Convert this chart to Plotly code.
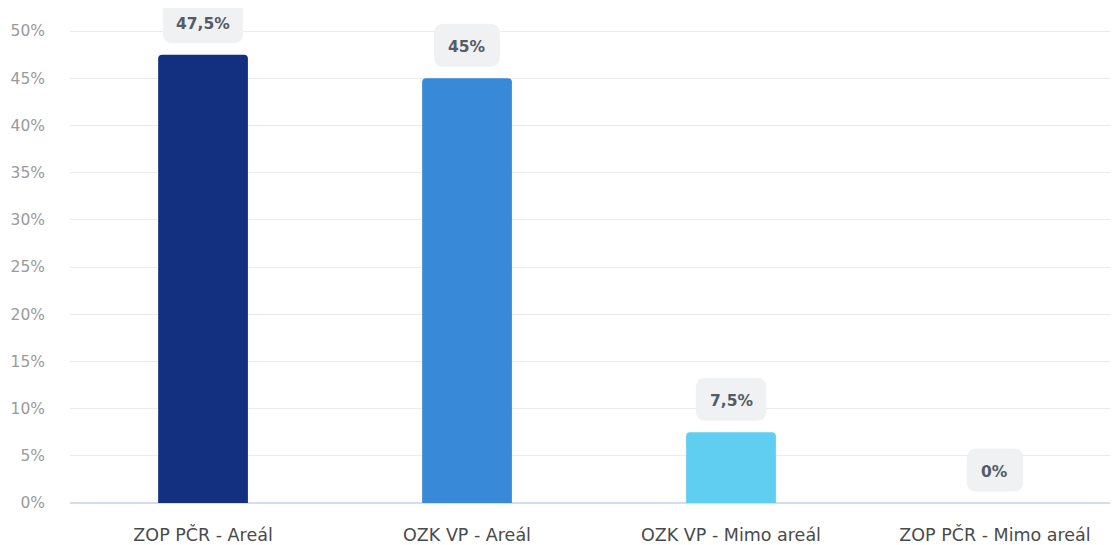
import plotly.graph_objects as go

categories = ["ZOP PČR - Areál", "OZK VP - Areál", "OZK VP - Mimo areál", "ZOP PČR - Mimo areál"]
values = [47.5, 45, 7.5, 0]
labels = ["47,5%", "45%", "7,5%", "0%"]
colors = ["#12307F", "#3889D8", "#60CEF0", "#60CEF0"]
y_ticks = [0, 5, 10, 15, 20, 25, 30, 35, 40, 45, 50]
y_tick_text = [f"{t}%" for t in y_ticks]

FONT = "DejaVu Sans, sans-serif"

fig = go.Figure()
fig.add_trace(go.Bar(
    x=categories, y=values,
    marker=dict(color=colors, cornerradius=4, line=dict(width=0)),
    width=0.34, hoverinfo="skip",
))

char_w = {",": 4.5, "%": 13}
def box_width(t):
    return 34 + sum(char_w.get(c, 9.5) for c in t)

def rounded_path(w, h, cy, r=10):
    x0, x1 = -w / 2, w / 2
    y0, y1 = cy - h / 2, cy + h / 2
    return (f"M {x0 + r},{y0} L {x1 - r},{y0} Q {x1},{y0} {x1},{y0 + r} "
            f"L {x1},{y1 - r} Q {x1},{y1} {x1 - r},{y1} L {x0 + r},{y1} "
            f"Q {x0},{y1} {x0},{y1 - r} L {x0},{y0 + r} Q {x0},{y0} {x0 + r},{y0} Z")

for i, (c, v, t) in enumerate(zip(categories, values, labels)):
    fig.add_shape(
        type="path", xref="x", yref="y", xsizemode="pixel", ysizemode="pixel",
        xanchor=i, yanchor=v,
        path=rounded_path(box_width(t), 43, 33),
        fillcolor="#F0F1F2", line=dict(width=0), layer="above",
    )
    fig.add_annotation(
        x=c, y=v, text=f"<b>{t}</b>", showarrow=False, yshift=31,
        font=dict(family=FONT, size=15.5, color="#545B66"),
    )

fig.update_layout(
    width=1110, height=537,
    margin=dict(l=62, r=0, t=0, b=42, autoexpand=False),
    plot_bgcolor="white", paper_bgcolor="white",
    showlegend=False,
    bargap=0.66,
    xaxis=dict(
        range=[-0.504, 3.466],
        showgrid=False, ticks="outside", ticklen=0, tickcolor="white",
        ticklabelstandoff=16,
        tickfont=dict(family=FONT, size=17.5, color="#4A4A4A"),
        showline=False,
    ),
    yaxis=dict(
        range=[0, 52.44], tickvals=y_ticks, ticktext=y_tick_text,
        gridcolor="#EBEBEB", gridwidth=1,
        zeroline=True, zerolinecolor="#D6DAF2", zerolinewidth=1.5,
        ticklabelstandoff=24,
        tickfont=dict(family=FONT, size=15.5, color="#9A9A9A"),
        showline=False,
    ),
)

fig.write_html("out.html")
